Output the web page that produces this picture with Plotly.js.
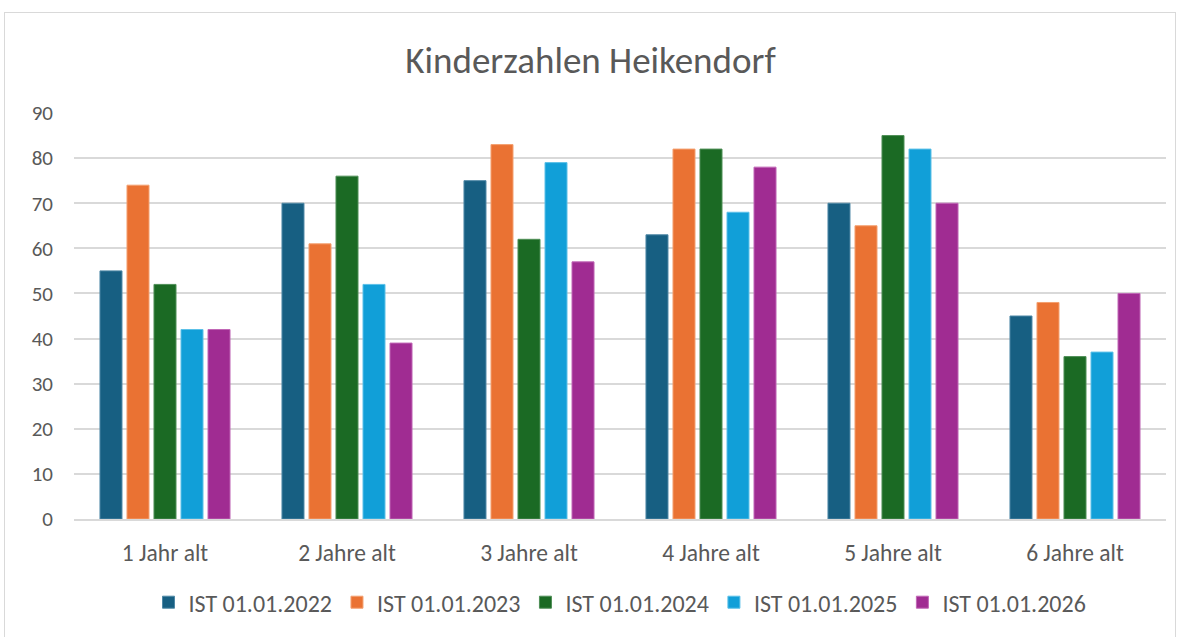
<!DOCTYPE html>
<html>
<head>
<meta charset="utf-8">
<script src="https://cdn.plot.ly/plotly-3.0.1.min.js"></script>
<style>
  html, body { margin: 0; padding: 0; background: #ffffff; }
  #frame { position: absolute; left: 4px; top: 12px; width: 1172px; height: 640px; border: 1.5px solid #d9d9d9; box-sizing: border-box; }
  #chart { position: absolute; left: 0; top: 0; width: 1181px; height: 637px; }
</style>
</head>
<body>
<div id="frame"></div>
<div id="chart"></div>
<script>
const categories = ["1 Jahr alt", "2 Jahre alt", "3 Jahre alt", "4 Jahre alt", "5 Jahre alt", "6 Jahre alt"];
const seriesNames = ["IST 01.01.2022", "IST 01.01.2023", "IST 01.01.2024", "IST 01.01.2025", "IST 01.01.2026"];
const ist2022 = [55, 70, 75, 63, 70, 45];
const ist2023 = [74, 61, 83, 82, 65, 48];
const ist2024 = [52, 76, 62, 82, 85, 36];
const ist2025 = [42, 52, 79, 68, 82, 37];
const ist2026 = [42, 39, 57, 78, 70, 50];
const yTicks = [0, 10, 20, 30, 40, 50, 60, 70, 80, 90];

const seriesValues = [ist2022, ist2023, ist2024, ist2025, ist2026];
const colors = ["#175F82", "#EA7233", "#1B6A24", "#119FD8", "#A02C92"];
const edges = ["#4f88a6", "#f4a070", "#4f8f57", "#5cc0e8", "#c067b6"];

const fontFam = "Carlito, Lato, 'Open Sans', sans-serif";

const traces = seriesValues.map((vals, i) => ({
  type: "bar",
  name: seriesNames[i],
  x: categories,
  y: vals,
  marker: { color: colors[i], line: { color: edges[i], width: 1 } },
  hoverinfo: "x+y+name"
}));

const layout = {
  width: 1181,
  height: 637,
  paper_bgcolor: "rgba(0,0,0,0)",
  plot_bgcolor: "rgba(0,0,0,0)",
  margin: { l: 74, r: 15, t: 113, b: 116 },
  barmode: "group",
  bargap: 0.258,
  bargroupgap: 0.185,
  title: {
    text: "Kinderzahlen Heikendorf",
    font: { family: fontFam, size: 37, color: "#595959", weight: 300 },
    x: 0.5, xanchor: "center",
    y: 1 - 60 / 637, yanchor: "middle"
  },
  font: { family: fontFam, color: "#595959" },
  xaxis: {
    type: "category",
    tickfont: { size: 23.5, color: "#595959", family: fontFam },
    showgrid: false,
    showline: true,
    linecolor: "#d9d9d9",
    linewidth: 2,
    ticks: "",
    ticklabelstandoff: 12,
    zeroline: false
  },
  yaxis: {
    range: [0, 90],
    tickvals: yTicks,
    ticktext: yTicks.map(String),
    tickfont: { size: 21, color: "#595959", family: fontFam },
    showgrid: true,
    gridcolor: "#d9d9d9",
    gridwidth: 2,
    zeroline: false,
    showline: false,
    ticks: "",
    ticklabelstandoff: 20
  },
  legend: {
    orientation: "h",
    x: 0.5, xanchor: "center",
    y: -(605 - 521) / (637 - 113 - 116), yanchor: "middle",
    font: { size: 24, color: "#595959", family: fontFam },
    itemwidth: 30,
    traceorder: "normal"
  },
  showlegend: true
};

Plotly.newPlot("chart", traces, layout, { displayModeBar: false, responsive: false });
</script>
</body>
</html>
